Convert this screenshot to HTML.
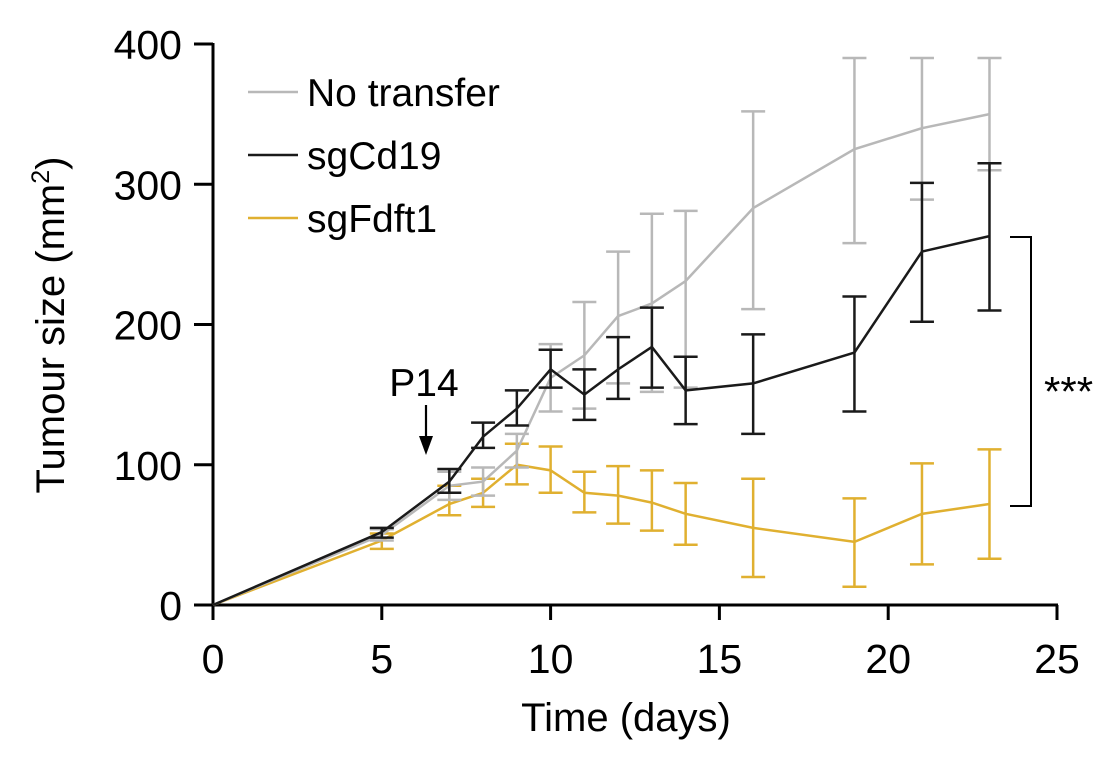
<!DOCTYPE html>
<html><head><meta charset="utf-8"><style>body{margin:0;background:#fff}svg{display:block;font-family:"Liberation Sans",sans-serif}</style></head>
<body>
<svg id="c" width="1120" height="760"></svg>
<script>
const days=[0,5,7,8,9,10,11,12,13,14,16,19,21,23];
const noMean=[0,50,85,88,110,162,178,206,215,231,283,325,340,350];
const noLo=[0,46,75,78,98,138,140,158,152,155,211,258,289,310];
const noHi=[0,54,95,98,122,186,216,252,279,281,352,390,390,390];
const cdMean=[0,52,88,120,140,168,150,168,184,153,158,180,252,263];
const cdLo=[0,48,80,112,128,155,132,147,155,129,122,138,202,210];
const cdHi=[0,55,97,130,153,182,168,191,212,177,193,220,301,315];
const fdMean=[0,46,72,80,100,96,80,78,73,65,55,45,65,72];
const fdLo=[0,40,64,70,86,80,66,58,53,43,20,13,29,33];
const fdHi=[0,51,85,90,115,113,95,99,96,87,90,76,101,111];
const xTicks=[0,5,10,15,20,25];
const yTicks=[0,100,200,300,400];
const NS='http://www.w3.org/2000/svg';
const svg=document.getElementById('c');
const X=d=>213+d*33.76, Y=v=>605-v*1.4025;
function el(t,a,p){const e=document.createElementNS(NS,t);for(const k in a)e.setAttribute(k,a[k]);(p||svg).appendChild(e);return e;}
let ax=el('line',{x1:211,y1:605,x2:1058,y2:605,stroke:'#000','stroke-width':3});

let ay=el('line',{x1:213,y1:43,x2:213,y2:606,stroke:'#000','stroke-width':3});

xTicks.forEach(t=>{el('line',{x1:X(t),y1:605,x2:X(t),y2:620,stroke:'#000','stroke-width':3});
 const tx=el('text',{x:X(t),y:673,'font-size':41,'text-anchor':'middle'});tx.textContent=t;
 });
yTicks.forEach(t=>{el('line',{x1:194,y1:Y(t),x2:213,y2:Y(t),stroke:'#000','stroke-width':3});
 const tx=el('text',{x:182,y:Y(t)+15,'font-size':41,'text-anchor':'end'});tx.textContent=t;
 });
function series(m,lo,hi,col,name){
 const g=el('g',{});
 days.forEach((d,i)=>{if(d===0)return;const x=X(d);
  el('line',{x1:x,y1:Y(lo[i]),x2:x,y2:Y(hi[i]),stroke:col,'stroke-width':2.5},g);
  el('line',{x1:x-12,y1:Y(lo[i]),x2:x+12,y2:Y(lo[i]),stroke:col,'stroke-width':2.5},g);
  el('line',{x1:x-12,y1:Y(hi[i]),x2:x+12,y2:Y(hi[i]),stroke:col,'stroke-width':2.5},g);});
 el('polyline',{points:days.map((d,i)=>X(d)+','+Y(m[i])).join(' '),fill:'none',stroke:col,'stroke-width':2.5},g);
}
series(fdMean,fdLo,fdHi,'#e0b030','series-sgfdft1');
series(noMean,noLo,noHi,'#b8b8b8','series-no-transfer');
series(cdMean,cdLo,cdHi,'#1a1a1a','series-sgcd19');
[['No transfer','#b8b8b8',92],['sgCd19','#1a1a1a',155],['sgFdft1','#e0b030',218]].forEach(([t,c,y])=>{
 const g=el('g',{});
 el('line',{x1:248,y1:y,x2:298,y2:y,stroke:c,'stroke-width':2.5},g);
 const tx=el('text',{x:307,y:y+14,'font-size':39},g);tx.textContent=t;});
const br=el('polyline',{points:'1010,237 1031,237 1031,506 1010,506',fill:'none',stroke:'#000','stroke-width':2});

const st=el('text',{x:1044,y:406,'font-size':42});st.textContent='***';

const p=el('text',{x:424,y:396,'font-size':39,'text-anchor':'middle'});p.textContent='P14';

const ar=el('g',{});
el('line',{x1:426,y1:405,x2:426,y2:446,stroke:'#000','stroke-width':2.2},ar);
el('polygon',{points:'419,436 433,436 426,455',fill:'#000'},ar);
const xt=el('text',{x:626,y:731,'font-size':40,'text-anchor':'middle'});xt.textContent='Time (days)';

const yt=el('text',{x:0,y:0,'font-size':40,'text-anchor':'middle',transform:'translate(64,325) rotate(-90)'});
yt.innerHTML='Tumour size (mm<tspan dy="-15" font-size="25">2</tspan><tspan dy="15">)</tspan>';

</script>
</body></html>
